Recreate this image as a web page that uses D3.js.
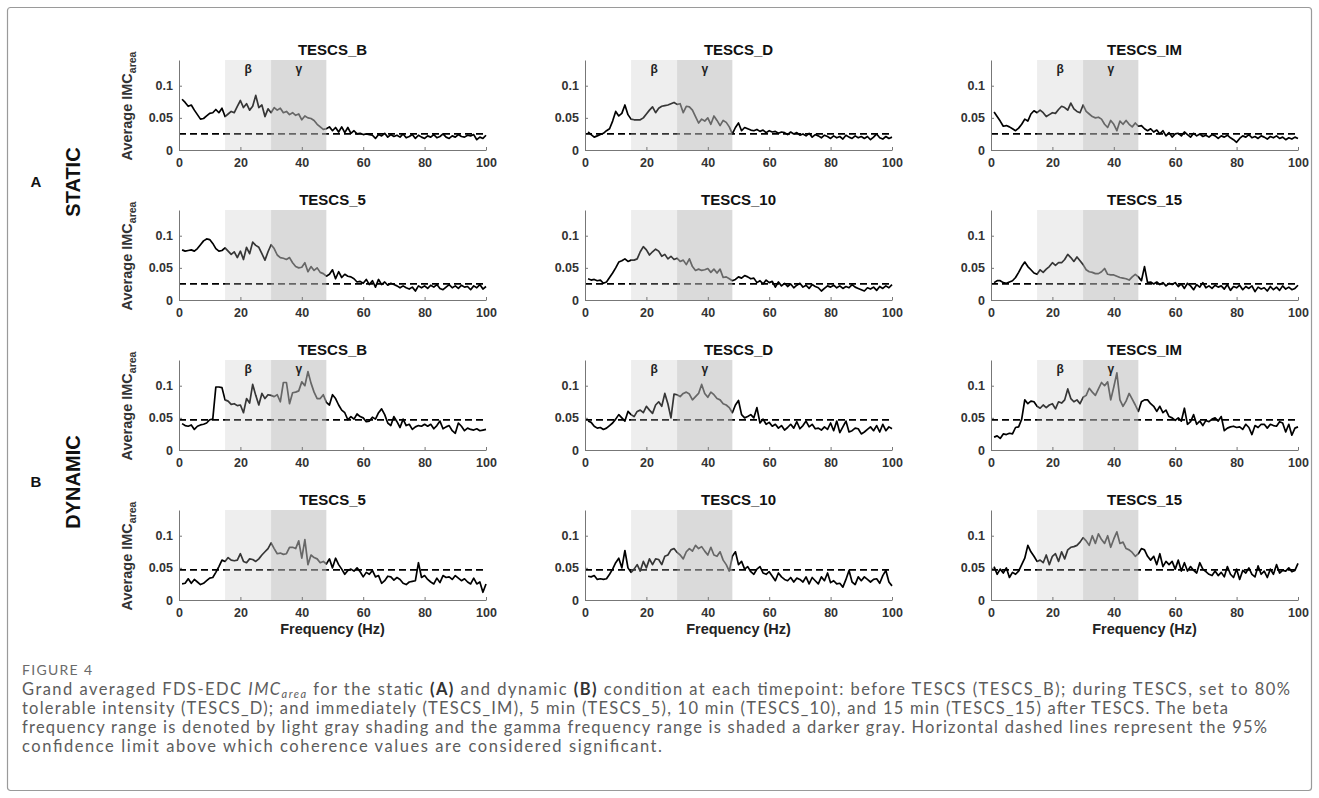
<!DOCTYPE html>
<html>
<head>
<meta charset="utf-8">
<script src="https://cdn.jsdelivr.net/npm/d3@7"></script>
<style>
  body { margin: 0; background: #fff; }
  svg { display: block; }
  .tick text { font-family: "Liberation Sans", Arial, sans-serif; font-weight: bold; font-size: 12.5px; fill: #333; }
  .domain, .tick line { stroke: #777; stroke-width: 1; }
</style>
</head>
<body>
<script>
// Frequency axis, 1 Hz steps
var freq = d3.range(1, 101);

var xTicks = [0, 20, 40, 60, 80, 100];
var yTicks = [0, 0.05, 0.1];
var betaBand = [15, 30];
var gammaBand = [30, 48];
var staticLimit = 0.025;
var dynamicLimit = 0.047;

var titles = ["TESCS_B", "TESCS_D", "TESCS_IM", "TESCS_5", "TESCS_10", "TESCS_15"];

// STATIC condition
var staticB = [0.079,0.074,0.068,0.070,0.062,0.055,0.048,0.049,0.053,0.057,
  0.058,0.063,0.058,0.065,0.052,0.056,0.060,0.058,0.068,0.077,
  0.066,0.072,0.062,0.068,0.085,0.066,0.070,0.052,0.064,0.058,
  0.066,0.062,0.065,0.058,0.060,0.055,0.058,0.054,0.056,0.047,
  0.053,0.050,0.049,0.046,0.040,0.036,0.032,0.033,0.036,0.030,
  0.035,0.028,0.036,0.027,0.035,0.026,0.030,0.025,0.026,0.024,
  0.025,0.024,0.023,0.018,0.024,0.022,0.026,0.020,0.024,0.021,
  0.023,0.020,0.025,0.019,0.021,0.024,0.018,0.023,0.020,0.018,
  0.022,0.020,0.024,0.019,0.021,0.025,0.020,0.018,0.022,0.020,
  0.024,0.021,0.020,0.023,0.022,0.024,0.016,0.020,0.018,0.023];
var staticD = [0.028,0.024,0.020,0.022,0.024,0.026,0.030,0.033,0.045,0.060,
  0.053,0.057,0.070,0.055,0.048,0.047,0.047,0.047,0.050,0.056,
  0.062,0.067,0.058,0.065,0.068,0.069,0.070,0.072,0.074,0.071,
  0.072,0.058,0.068,0.067,0.062,0.052,0.042,0.048,0.045,0.050,
  0.040,0.053,0.046,0.038,0.046,0.043,0.036,0.025,0.035,0.042,
  0.030,0.035,0.033,0.031,0.030,0.032,0.029,0.031,0.027,0.030,
  0.028,0.029,0.026,0.028,0.027,0.024,0.028,0.025,0.027,0.023,
  0.025,0.022,0.026,0.020,0.024,0.022,0.019,0.023,0.021,0.018,
  0.022,0.019,0.021,0.017,0.023,0.020,0.018,0.022,0.019,0.021,
  0.018,0.021,0.016,0.020,0.025,0.019,0.017,0.021,0.018,0.020];
var staticIM = [0.059,0.052,0.045,0.037,0.038,0.036,0.033,0.030,0.034,0.040,
  0.048,0.045,0.056,0.061,0.058,0.062,0.058,0.052,0.055,0.058,
  0.057,0.063,0.068,0.066,0.062,0.073,0.064,0.060,0.058,0.070,
  0.060,0.056,0.052,0.050,0.051,0.048,0.040,0.035,0.046,0.040,
  0.030,0.045,0.040,0.046,0.040,0.036,0.042,0.037,0.038,0.033,
  0.030,0.033,0.028,0.031,0.025,0.030,0.022,0.027,0.020,0.025,
  0.026,0.022,0.028,0.024,0.020,0.026,0.022,0.025,0.021,0.023,
  0.020,0.024,0.022,0.018,0.022,0.020,0.023,0.019,0.016,0.012,
  0.018,0.022,0.020,0.024,0.019,0.021,0.018,0.022,0.020,0.017,
  0.021,0.019,0.022,0.018,0.020,0.016,0.019,0.017,0.020,0.018];
var static5 = [0.078,0.076,0.077,0.078,0.076,0.080,0.086,0.092,0.095,0.094,
  0.088,0.080,0.076,0.077,0.081,0.076,0.071,0.075,0.066,0.076,
  0.063,0.082,0.072,0.090,0.085,0.082,0.072,0.062,0.075,0.086,
  0.080,0.070,0.066,0.065,0.063,0.066,0.058,0.052,0.050,0.051,
  0.058,0.044,0.052,0.046,0.050,0.043,0.041,0.037,0.040,0.047,
  0.033,0.044,0.035,0.040,0.037,0.036,0.033,0.028,0.029,0.026,
  0.032,0.024,0.030,0.020,0.032,0.024,0.028,0.023,0.026,0.024,
  0.022,0.019,0.022,0.019,0.017,0.020,0.014,0.022,0.019,0.022,
  0.018,0.023,0.020,0.024,0.018,0.016,0.020,0.024,0.019,0.022,
  0.018,0.023,0.020,0.021,0.016,0.022,0.019,0.024,0.017,0.021];
var static10 = [0.033,0.031,0.032,0.030,0.031,0.026,0.028,0.035,0.042,0.050,
  0.059,0.061,0.064,0.060,0.062,0.062,0.064,0.075,0.083,0.078,
  0.070,0.075,0.079,0.076,0.068,0.071,0.064,0.068,0.063,0.065,
  0.060,0.062,0.055,0.064,0.052,0.046,0.048,0.046,0.047,0.049,
  0.043,0.048,0.042,0.048,0.035,0.036,0.033,0.030,0.032,0.036,
  0.034,0.038,0.036,0.033,0.034,0.027,0.030,0.025,0.031,0.027,
  0.029,0.020,0.028,0.022,0.026,0.021,0.025,0.019,0.023,0.026,
  0.020,0.023,0.018,0.024,0.021,0.019,0.014,0.018,0.022,0.020,
  0.023,0.019,0.022,0.018,0.021,0.019,0.024,0.020,0.018,0.016,
  0.014,0.019,0.017,0.020,0.015,0.021,0.018,0.022,0.019,0.024];
var static15 = [0.027,0.030,0.030,0.027,0.026,0.028,0.030,0.035,0.043,0.052,
  0.059,0.052,0.047,0.042,0.040,0.047,0.043,0.048,0.052,0.058,
  0.054,0.058,0.058,0.063,0.071,0.066,0.060,0.067,0.061,0.055,
  0.047,0.044,0.043,0.041,0.041,0.044,0.049,0.040,0.039,0.039,
  0.037,0.035,0.034,0.033,0.031,0.036,0.040,0.036,0.030,0.052,
  0.027,0.028,0.025,0.028,0.024,0.027,0.022,0.026,0.024,0.027,
  0.021,0.025,0.018,0.026,0.022,0.016,0.024,0.020,0.027,0.019,
  0.022,0.018,0.023,0.020,0.022,0.017,0.024,0.015,0.021,0.019,
  0.023,0.016,0.021,0.018,0.022,0.013,0.020,0.017,0.019,0.014,
  0.021,0.016,0.020,0.015,0.022,0.017,0.020,0.016,0.018,0.023];

// DYNAMIC condition
var dynamicB = [0.041,0.038,0.037,0.039,0.032,0.037,0.039,0.040,0.042,0.047,
  0.048,0.098,0.098,0.097,0.078,0.076,0.071,0.072,0.069,0.070,
  0.058,0.080,0.073,0.102,0.085,0.070,0.088,0.080,0.086,0.085,
  0.083,0.086,0.075,0.105,0.105,0.072,0.089,0.090,0.092,0.106,
  0.100,0.122,0.104,0.090,0.080,0.080,0.086,0.074,0.070,0.086,
  0.080,0.070,0.062,0.058,0.047,0.052,0.048,0.056,0.052,0.050,
  0.044,0.045,0.051,0.048,0.058,0.064,0.055,0.042,0.038,0.052,
  0.044,0.035,0.048,0.038,0.040,0.032,0.036,0.038,0.037,0.040,
  0.037,0.040,0.033,0.038,0.045,0.033,0.036,0.038,0.030,0.026,
  0.042,0.037,0.030,0.034,0.032,0.031,0.033,0.030,0.031,0.032];
var dynamicD = [0.045,0.043,0.037,0.034,0.035,0.032,0.034,0.038,0.042,0.048,
  0.055,0.050,0.045,0.060,0.055,0.052,0.060,0.062,0.058,0.068,
  0.062,0.057,0.070,0.075,0.068,0.088,0.072,0.050,0.087,0.086,
  0.083,0.088,0.090,0.087,0.078,0.083,0.088,0.102,0.088,0.082,
  0.090,0.086,0.080,0.078,0.072,0.070,0.066,0.058,0.070,0.077,
  0.055,0.050,0.052,0.055,0.050,0.066,0.042,0.048,0.040,0.043,
  0.037,0.040,0.034,0.038,0.031,0.035,0.040,0.034,0.044,0.033,
  0.038,0.045,0.036,0.040,0.033,0.034,0.031,0.036,0.032,0.042,
  0.030,0.045,0.027,0.036,0.045,0.028,0.030,0.034,0.033,0.025,
  0.028,0.032,0.036,0.030,0.038,0.028,0.040,0.030,0.036,0.033];
var dynamicIM = [0.020,0.022,0.018,0.025,0.024,0.026,0.025,0.035,0.036,0.048,
  0.078,0.072,0.076,0.075,0.068,0.065,0.070,0.066,0.070,0.072,
  0.064,0.075,0.073,0.078,0.095,0.080,0.075,0.078,0.072,0.082,
  0.085,0.096,0.090,0.085,0.095,0.105,0.100,0.106,0.078,0.098,
  0.120,0.078,0.068,0.076,0.088,0.079,0.070,0.060,0.075,0.078,
  0.078,0.072,0.068,0.060,0.068,0.058,0.062,0.052,0.050,0.046,
  0.050,0.045,0.065,0.040,0.044,0.055,0.040,0.045,0.038,0.046,
  0.044,0.048,0.050,0.045,0.052,0.030,0.034,0.036,0.037,0.035,
  0.036,0.032,0.040,0.035,0.024,0.038,0.035,0.040,0.040,0.034,
  0.040,0.038,0.037,0.044,0.042,0.028,0.040,0.023,0.034,0.036];
var dynamic5 = [0.025,0.026,0.033,0.026,0.032,0.028,0.024,0.026,0.030,0.034,
  0.035,0.043,0.052,0.062,0.060,0.066,0.062,0.061,0.062,0.072,
  0.060,0.058,0.064,0.063,0.060,0.064,0.070,0.075,0.080,0.089,
  0.080,0.072,0.073,0.071,0.072,0.082,0.082,0.080,0.092,0.065,
  0.094,0.055,0.070,0.066,0.064,0.058,0.060,0.056,0.064,0.050,
  0.065,0.055,0.048,0.040,0.046,0.048,0.045,0.050,0.044,0.036,
  0.043,0.040,0.046,0.036,0.038,0.026,0.030,0.037,0.036,0.031,
  0.035,0.032,0.026,0.024,0.028,0.029,0.030,0.058,0.035,0.038,
  0.032,0.028,0.025,0.034,0.027,0.038,0.035,0.036,0.032,0.038,
  0.034,0.030,0.033,0.028,0.025,0.034,0.025,0.028,0.012,0.025];
var dynamic10 = [0.037,0.036,0.038,0.032,0.033,0.032,0.033,0.040,0.048,0.058,
  0.065,0.050,0.077,0.050,0.043,0.048,0.055,0.045,0.060,0.050,
  0.064,0.055,0.064,0.063,0.055,0.068,0.070,0.078,0.080,0.074,
  0.070,0.064,0.075,0.080,0.076,0.085,0.080,0.083,0.076,0.070,
  0.082,0.070,0.068,0.075,0.062,0.055,0.045,0.068,0.075,0.055,
  0.060,0.048,0.052,0.044,0.040,0.048,0.052,0.042,0.040,0.044,
  0.037,0.030,0.042,0.036,0.032,0.030,0.035,0.028,0.034,0.032,
  0.028,0.036,0.025,0.035,0.030,0.025,0.036,0.030,0.042,0.027,
  0.030,0.025,0.026,0.020,0.032,0.046,0.028,0.024,0.036,0.030,
  0.036,0.032,0.028,0.032,0.033,0.026,0.038,0.046,0.028,0.022];
var dynamic15 = [0.052,0.040,0.048,0.042,0.050,0.035,0.043,0.040,0.045,0.055,
  0.065,0.085,0.075,0.068,0.060,0.062,0.058,0.070,0.055,0.068,
  0.072,0.060,0.075,0.064,0.078,0.082,0.083,0.085,0.090,0.097,
  0.092,0.085,0.100,0.088,0.103,0.094,0.088,0.100,0.082,0.095,
  0.106,0.088,0.090,0.080,0.078,0.074,0.068,0.072,0.080,0.078,
  0.068,0.062,0.068,0.055,0.072,0.052,0.060,0.055,0.060,0.048,
  0.062,0.045,0.058,0.045,0.052,0.046,0.042,0.058,0.048,0.044,
  0.040,0.038,0.045,0.038,0.043,0.036,0.052,0.040,0.035,0.048,
  0.032,0.046,0.042,0.050,0.040,0.036,0.053,0.040,0.045,0.035,
  0.048,0.040,0.055,0.042,0.046,0.045,0.050,0.044,0.046,0.057];

var staticSeries = [staticB, staticD, staticIM, static5, static10, static15];
var dynamicSeries = [dynamicB, dynamicD, dynamicIM, dynamic5, dynamic10, dynamic15];

//Layout
var W = 1319, H = 798;
var colX = [179, 585, 991];
var rowTop = [60, 210, 360, 510];
var pw = 307, ph = 90;

var svg = d3.select("body").append("svg")
  .attr("width", W)
  .attr("height", H);

//Figure frame
svg.append("rect")
  .attr("x", 7.5).attr("y", 7.5)
  .attr("width", 1304).attr("height", 783)
  .attr("rx", 3)
  .attr("fill", "none")
  .attr("stroke", "#9a9a9a")
  .attr("stroke-width", 1.2);

var x = d3.scaleLinear().domain([0, 100]).range([0, pw]);
var y = d3.scaleLinear().domain([0, 0.14]).range([ph, 0]);

var line = d3.line()
  .x(function(d) { return x(d.f); })
  .y(function(d) { return y(d.v); });

var panels = [];
for (var r = 0; r < 4; r++) {
  for (var c = 0; c < 3; c++) {
    var isStatic = r < 2;
    var k = (r % 2) * 3 + c;
    panels.push({
      row: r, col: c,
      title: titles[k],
      values: (isStatic ? staticSeries : dynamicSeries)[k],
      limit: isStatic ? staticLimit : dynamicLimit,
      bands: r === 0 || r === 2
    });
  }
}

panels.forEach(function(p) {
  var g = svg.append("g")
    .attr("transform", "translate(" + colX[p.col] + "," + rowTop[p.row] + ")");

  var pts = freq.map(function(f, i) { return {f: f, v: p.values[i]}; });

  //Data line
  g.append("path")
    .datum(pts)
    .attr("d", line)
    .attr("fill", "none")
    .attr("stroke", "#000")
    .attr("stroke-width", 1.7)
    .attr("stroke-linejoin", "round");

  //Significance limit
  g.append("line")
    .attr("x1", x(0)).attr("x2", x(100))
    .attr("y1", y(p.limit)).attr("y2", y(p.limit))
    .attr("stroke", "#000")
    .attr("stroke-width", 1.8)
    .attr("stroke-dasharray", "7,4");

  //Beta / gamma shading drawn on top, semi transparent
  g.append("rect")
    .attr("x", x(betaBand[0])).attr("y", y(0.14))
    .attr("width", x(betaBand[1]) - x(betaBand[0]))
    .attr("height", y(0) - y(0.14))
    .attr("fill", "#c2c2c2").attr("opacity", 0.28);
  g.append("rect")
    .attr("x", x(gammaBand[0])).attr("y", y(0.14))
    .attr("width", x(gammaBand[1]) - x(gammaBand[0]))
    .attr("height", y(0) - y(0.14))
    .attr("fill", "#bbbbbb").attr("opacity", 0.55);

  if (p.bands) {
    g.append("text")
      .attr("x", x((betaBand[0] + betaBand[1]) / 2))
      .attr("y", 13)
      .attr("text-anchor", "middle")
      .style("font", "bold 12px 'Liberation Sans', Arial, sans-serif")
      .attr("fill", "#222")
      .text("β");
    g.append("text")
      .attr("x", x((gammaBand[0] + gammaBand[1]) / 2))
      .attr("y", 13)
      .attr("text-anchor", "middle")
      .style("font", "bold 12px 'Liberation Sans', Arial, sans-serif")
      .attr("fill", "#222")
      .text("γ");
  }

  //Axes
  g.append("g")
    .attr("transform", "translate(0," + ph + ")")
    .call(d3.axisBottom(x).tickValues(xTicks).tickSize(-3).tickSizeOuter(0).tickPadding(8));
  g.append("g")
    .call(d3.axisLeft(y).tickValues(yTicks).tickSize(-3).tickSizeOuter(0).tickPadding(6)
      .tickFormat(function(d) { return String(d); }));

  //Title
  g.append("text")
    .attr("x", pw / 2)
    .attr("y", -5)
    .attr("text-anchor", "middle")
    .style("font", "bold 15px 'Liberation Sans', Arial, sans-serif")
    .attr("fill", "#111")
    .text(p.title);

  //Y label on the left column
  if (p.col === 0) {
    var yl = g.append("text")
      .attr("transform", "translate(-47," + (ph / 2 + 1) + ") rotate(-90)")
      .attr("text-anchor", "middle")
      .style("font", "bold 14.5px 'Liberation Sans', Arial, sans-serif")
      .attr("fill", "#333");
    yl.append("tspan").text("Average IMC");
    yl.append("tspan").attr("dy", 4).style("font-size", "10.5px").text("area");
  }

  //X label on the bottom row
  if (p.row === 3) {
    g.append("text")
      .attr("x", pw / 2)
      .attr("y", ph + 34)
      .attr("text-anchor", "middle")
      .style("font", "bold 14.5px 'Liberation Sans', Arial, sans-serif")
      .attr("fill", "#222")
      .text("Frequency (Hz)");
  }
});

//Condition labels
var condFont = "bold 20px 'Liberation Sans', Arial, sans-serif";
[["A", "STATIC", 182], ["B", "DYNAMIC", 482]].forEach(function(d) {
  svg.append("text")
    .attr("x", 36).attr("y", d[2] + 5)
    .attr("text-anchor", "middle")
    .style("font", "bold 15px 'Liberation Sans', Arial, sans-serif")
    .attr("fill", "#111")
    .text(d[0]);
  svg.append("text")
    .attr("transform", "translate(80," + d[2] + ") rotate(-90)")
    .attr("text-anchor", "middle")
    .style("font", condFont)
    .attr("fill", "#111")
    .text(d[1]);
});

//Caption
var capFont = "Lato, 'Open Sans', sans-serif";
svg.append("text")
  .attr("x", 22).attr("y", 675)
  .style("font-family", capFont).style("font-size", "14px")
  .attr("textLength", 70).attr("lengthAdjust", "spacing")
  .attr("fill", "#6a6a6a")
  .text("FIGURE 4");

// line widths taken from the reference so the caption wraps as it does there
var capWidths = [1268, 1206, 1245, 640];
var capLines = [
  [["Grand averaged FDS-EDC ", ""], ["IMC", "i"], ["area", "isub"], [" for the static ", "up"], ["(A)", "b"],
   [" and dynamic ", ""], ["(B)", "b"], [" condition at each timepoint: before TESCS (TESCS_B); during TESCS, set to 80%", ""]],
  [["tolerable intensity (TESCS_D); and immediately (TESCS_IM), 5 min (TESCS_5), 10 min (TESCS_10), and 15 min (TESCS_15) after TESCS. The beta", ""]],
  [["frequency range is denoted by light gray shading and the gamma frequency range is shaded a darker gray. Horizontal dashed lines represent the 95%", ""]],
  [["confidence limit above which coherence values are considered significant.", ""]]
];

capLines.forEach(function(parts, i) {
  var t = svg.append("text")
    .attr("x", 22).attr("y", 695 + i * 19)
    .attr("textLength", capWidths[i]).attr("lengthAdjust", "spacing")
    .style("font-family", capFont).style("font-size", "16.5px")
    .attr("fill", "#5c5c5c");
  parts.forEach(function(p) {
    var s = t.append("tspan").text(p[0]);
    if (p[1] === "i") s.style("font-style", "italic");
    if (p[1] === "b") s.style("font-weight", "bold").attr("fill", "#333");
    if (p[1] === "isub") s.style("font-style", "italic").style("font-size", "11px").attr("dy", 2.5);
    if (p[1] === "up") s.attr("dy", -2.5);
  });
});
</script>
</body>
</html>
